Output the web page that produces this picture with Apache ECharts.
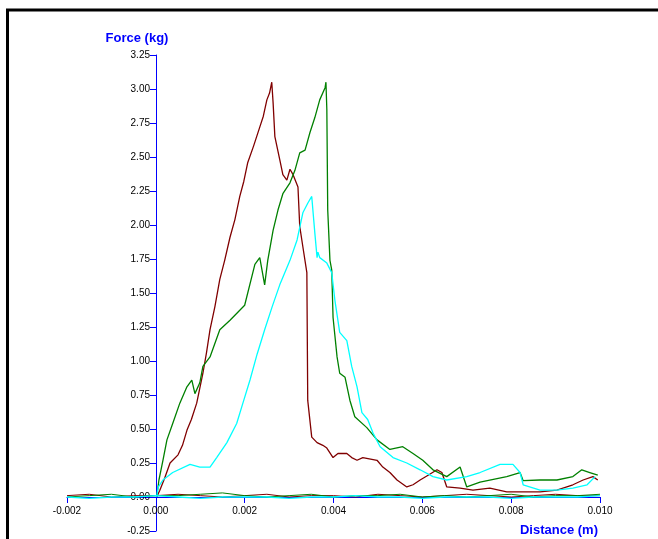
<!DOCTYPE html>
<html>
<head>
<meta charset="utf-8">
<title>Force vs Distance</title>
<script src="https://cdn.jsdelivr.net/npm/echarts@6/dist/echarts.min.js"></script>
<style>
  html, body { margin: 0; padding: 0; background: #fff; }
  #chart { width: 658px; height: 539px; }
</style>
</head>
<body>
<div id="chart"></div>
<script>
// Force (kg) vs Distance (m) — three test runs
const FONT = "'Liberation Sans', Arial, sans-serif";
const BLUE = '#0000ff';
const COLORS = { red: '#800000', green: '#008000', cyan: '#00ffff' };

const xTicks = { min: -0.002, max: 0.010, step: 0.002 };
const yTicks = { min: -0.25, max: 3.25, step: 0.25 };

// loading stroke, [distance, force]
const redRun = [
  [0.00002, 0.00], [0.00009, 0.05], [0.0002, 0.14], [0.00032, 0.25], [0.0005, 0.31],
  [0.0006, 0.38], [0.0007, 0.49], [0.0008, 0.57], [0.00092, 0.69], [0.00106, 0.91],
  [0.00114, 1.06], [0.00122, 1.23], [0.00133, 1.40], [0.00144, 1.60], [0.00155, 1.74],
  [0.00167, 1.91], [0.00178, 2.04], [0.00189, 2.21], [0.00198, 2.32], [0.00207, 2.46],
  [0.0022, 2.58], [0.00234, 2.72], [0.00242, 2.80], [0.0025, 2.92], [0.00256, 2.97],
  [0.00261, 3.05], [0.00264, 2.90], [0.00268, 2.65], [0.00279, 2.48], [0.00286, 2.37],
  [0.00295, 2.33], [0.00302, 2.41], [0.00309, 2.37], [0.0032, 2.28], [0.00324, 1.99],
  [0.00331, 1.84], [0.0034, 1.65], [0.00342, 0.71], [0.00351, 0.44], [0.00363, 0.40],
  [0.00376, 0.38], [0.00385, 0.36], [0.00399, 0.29], [0.0041, 0.32], [0.0043, 0.32],
  [0.00441, 0.29], [0.00453, 0.27], [0.00466, 0.29], [0.00498, 0.27], [0.00511, 0.22],
  [0.00527, 0.18], [0.00543, 0.125], [0.00565, 0.074], [0.00579, 0.09], [0.00595, 0.125],
  [0.00613, 0.16], [0.00633, 0.20], [0.00644, 0.18], [0.00655, 0.074],
  [0.00685, 0.066], [0.00714, 0.05], [0.00752, 0.066], [0.0079, 0.037], [0.00865, 0.037],
  [0.00903, 0.05], [0.00939, 0.09], [0.00962, 0.125], [0.00984, 0.15], [0.00995, 0.125],
];
const greenRun = [
  [0.00002, 0.00], [0.00007, 0.125], [0.00016, 0.27], [0.00025, 0.42], [0.00038, 0.54],
  [0.00054, 0.69], [0.0007, 0.81], [0.00081, 0.86], [0.00088, 0.76], [0.00099, 0.84],
  [0.00106, 0.96], [0.00122, 1.03], [0.00144, 1.23], [0.00167, 1.30], [0.002, 1.41],
  [0.00223, 1.71], [0.00234, 1.76], [0.00245, 1.56], [0.00252, 1.74], [0.00264, 1.96],
  [0.00275, 2.11], [0.00286, 2.23], [0.00302, 2.31], [0.00313, 2.40], [0.00324, 2.53],
  [0.00336, 2.55], [0.00347, 2.68], [0.00358, 2.79], [0.00369, 2.92], [0.00381, 3.01],
  [0.00383, 3.05], [0.00385, 2.85], [0.00387, 2.11], [0.00392, 1.74], [0.00396, 1.67],
  [0.00399, 1.32], [0.00408, 1.03], [0.00414, 0.91], [0.00426, 0.88], [0.00437, 0.71],
  [0.00448, 0.59], [0.00475, 0.51], [0.00498, 0.42], [0.00527, 0.35], [0.00556, 0.37],
  [0.00579, 0.32], [0.00601, 0.27], [0.00624, 0.20], [0.00655, 0.15], [0.00685, 0.22],
  [0.007, 0.074], [0.0073, 0.11], [0.0079, 0.15], [0.0082, 0.18], [0.00827, 0.12],
  [0.00865, 0.125], [0.00903, 0.125], [0.00939, 0.15], [0.00959, 0.20], [0.00977, 0.18],
  [0.00995, 0.16],
];
const cyanRun = [
  [0.00002, 0.00], [0.00005, 0.07], [0.00016, 0.125], [0.00038, 0.18], [0.00077, 0.24],
  [0.00099, 0.22], [0.00122, 0.22], [0.00137, 0.29], [0.0016, 0.40], [0.00182, 0.54],
  [0.00196, 0.69], [0.00212, 0.86], [0.00228, 1.05], [0.00245, 1.23], [0.00262, 1.40],
  [0.00279, 1.56], [0.00302, 1.74], [0.00318, 1.89],
  [0.00331, 2.09], [0.00342, 2.16], [0.00351, 2.21], [0.00358, 1.94], [0.00363, 1.76],
  [0.00365, 1.80], [0.00369, 1.76], [0.00385, 1.72], [0.00396, 1.65], [0.00403, 1.45],
  [0.00414, 1.21], [0.0043, 1.15], [0.00441, 0.96], [0.00453, 0.81], [0.00464, 0.62],
  [0.00477, 0.57], [0.00489, 0.47], [0.00505, 0.37], [0.00534, 0.29], [0.00565, 0.25],
  [0.00595, 0.20], [0.00624, 0.15], [0.00655, 0.125], [0.007, 0.15], [0.0073, 0.18],
  [0.00775, 0.24], [0.00804, 0.24], [0.0082, 0.18], [0.00827, 0.09], [0.00865, 0.05],
  [0.00903, 0.05], [0.00939, 0.066], [0.00971, 0.09], [0.00989, 0.15],
];

// return strokes sitting on the zero line
const baseX = [
  -0.0020, -0.0015, -0.0010, -0.0005, 0.0000, 0.0005, 0.0010, 0.0015, 0.0020,
  0.0025, 0.0030, 0.0035, 0.0040, 0.0045, 0.0050, 0.0055, 0.0060, 0.0065,
  0.0070, 0.0075, 0.0080, 0.0085, 0.0090, 0.0095, 0.0100,
];
const redBase = [0.01, 0.02, 0.00, 0.01, 0.01, 0.02, 0.01, 0.00, 0.01, 0.02, 0.00, 0.01, 0.01,
  0.00, 0.02, 0.01, 0.00, 0.01, 0.02, 0.01, 0.00, 0.01, 0.02, 0.01, 0.01];
const greenBase = [0.00, 0.01, 0.02, 0.00, 0.01, 0.01, 0.02, 0.03, 0.01, 0.00, 0.01, 0.02, 0.00,
  0.01, 0.01, 0.02, 0.00, 0.01, 0.00, 0.01, 0.02, 0.00, 0.01, 0.01, 0.02];
const cyanBase = [0.00, -0.01, 0.00, 0.00, 0.01, 0.00, -0.01, 0.00, 0.00, 0.00, -0.01, 0.00, 0.00,
  0.01, 0.00, 0.00, -0.01, 0.00, 0.00, 0.00, -0.01, 0.00, 0.00, 0.00, 0.01];

const zip = (xs, ys) => xs.map((x, i) => [x, ys[i]]);

function line(data, color, width) {
  return {
    type: 'line', data, symbol: 'none', smooth: false,
    lineStyle: { color, width }, itemStyle: { color },
  };
}

// grid spans -0.002..0.010 x -0.25..3.25; axes are shifted onto the zero lines
const GRID = { left: 67, right: 58, top: 55, bottom: 8 };

const chart = echarts.init(document.getElementById('chart'), null, { renderer: 'canvas' });
chart.setOption({
  animation: false,
  backgroundColor: '#fff',
  grid: { ...GRID, containLabel: false, outerBoundsMode: 'none' },
  xAxis: {
    type: 'value', min: xTicks.min, max: xTicks.max, interval: xTicks.step,
    offset: -34,
    name: 'Distance (m)', nameLocation: 'end', nameGap: -2,
    nameTextStyle: { color: BLUE, fontFamily: FONT, fontWeight: 'bold', fontSize: 13,
      align: 'right', verticalAlign: 'top', padding: [27, 0, 0, 0] },
    axisLine: { onZero: false, lineStyle: { color: BLUE, width: 1 } },
    axisTick: { length: 6, lineStyle: { color: BLUE } },
    axisLabel: { color: '#000', fontFamily: FONT, fontSize: 10, margin: 9,
      formatter: v => v.toFixed(3) },
    splitLine: { show: false },
  },
  yAxis: {
    type: 'value', min: yTicks.min, max: yTicks.max, interval: yTicks.step,
    offset: -89,
    name: 'Force (kg)', nameLocation: 'end', nameGap: 10,
    nameTextStyle: { color: BLUE, fontFamily: FONT, fontWeight: 'bold', fontSize: 13,
      align: 'center', padding: [0, 38, 0, 0] },
    axisLine: { onZero: false, lineStyle: { color: BLUE, width: 1 } },
    axisTick: { length: 6, lineStyle: { color: BLUE } },
    axisLabel: { color: '#000', fontFamily: FONT, fontSize: 10, margin: 6,
      formatter: v => v.toFixed(2) },
    splitLine: { show: false },
  },
  graphic: [{
    type: 'polyline', silent: true, z: 100,
    shape: { points: [[7.5, 539], [7.5, 10], [658, 10]] },
    style: { stroke: '#000', lineWidth: 3, fill: null },
  }],
  series: [
    line(redRun, COLORS.red, 1.3),
    line(greenRun, COLORS.green, 1.3),
    line(cyanRun, COLORS.cyan, 1.3),
    line(zip(baseX, redBase), COLORS.red, 1),
    line(zip(baseX, greenBase), COLORS.green, 1),
    line(zip(baseX, cyanBase), COLORS.cyan, 1.3),
  ],
});
</script>
</body>
</html>
